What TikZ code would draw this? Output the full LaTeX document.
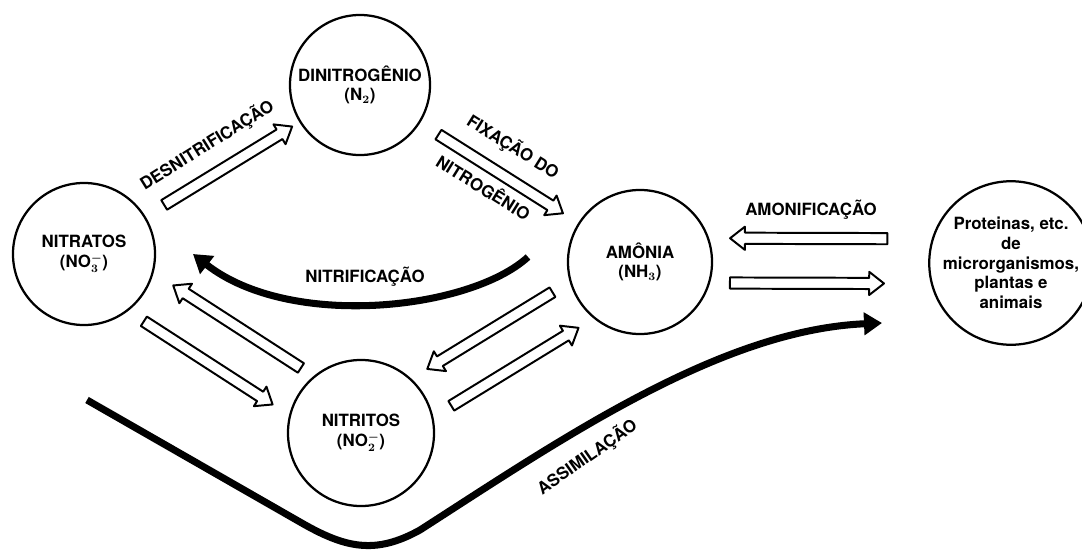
\documentclass[tikz,border=0pt]{standalone}
\usepackage{fontspec}
\setmainfont{TeX Gyre Heros}
\usetikzlibrary{arrows.meta, calc}

% hollow block arrow from #1 (tail) to #2 (tip)
\newcommand{\hollowarrow}[2]{%
  \draw[flow] ($(#1)!0.14cm!90:(#2)$)
    -- ($(#2)!0.37cm!(#1)!0.14cm!90:(#2)$)
    -- ($(#2)!0.37cm!(#1)!0.29cm!90:(#2)$)
    -- (#2)
    -- ($(#2)!0.37cm!(#1)!0.29cm!-90:(#2)$)
    -- ($(#2)!0.37cm!(#1)!0.14cm!-90:(#2)$)
    -- ($(#1)!0.14cm!-90:(#2)$) -- cycle;}

\begin{document}
\begin{tikzpicture}[
    x=0.025cm, y=-0.025cm,
    pool/.style     = {draw, circle, line width=1.6pt, minimum size=3.6cm,
                       inner sep=0pt, align=center,
                       font=\bfseries\boldmath\fontsize{12}{14}\selectfont},
    lbl/.style      = {font=\bfseries\fontsize{12}{14}\selectfont, inner sep=1pt},
    flow/.style     = {draw, fill=white, line width=1.4pt, line join=round},
    bold arr/.style = {line width=5pt,
                       -{Triangle[length=0.45cm, width=0.55cm]}},
  ]
  \useasboundingbox (0,0) rectangle (1082,552);

  % pools of nitrogen
  \node[pool, minimum size=3.55cm] (nitratos) at (84,254) {NITRATOS\\(NO$_3^-$)};
  \node[pool, minimum size=3.5cm]  (dinitro)  at (360,85) {DINITROGÊNIO\\(N$_2$)};
  \node[pool] (amonia)   at (640,262) {AMÔNIA\\(NH$_3$)};
  \node[pool, minimum size=3.65cm] (nitritos) at (361,433) {NITRITOS\\(NO$_2^-$)};
  \node[pool, minimum size=3.5cm]  (prot)     at (1011,263)
       {Proteinas, etc.\\de\\microrganismos,\\plantas e\\animais};

  % arrow ends
  \coordinate (desA) at ($(nitratos)!2.35cm!(dinitro)$);
  \coordinate (desB) at ($(nitratos)!6.1cm!(dinitro)$);
  \coordinate (fixA) at ($(dinitro)!2.32cm!(amonia)$);
  \coordinate (fixB) at ($(dinitro)!6.0cm!(amonia)$);
  \coordinate (ntA)  at ($(nitratos)!6.1cm!(nitritos)!0.55cm!90:(nitritos)$);
  \coordinate (ntB)  at ($(nitratos)!2.3cm!(nitritos)!0.55cm!90:(nitritos)$);
  \coordinate (tnA)  at ($(nitratos)!2.17cm!(nitritos)!0.6cm!-90:(nitritos)$);
  \coordinate (tnB)  at ($(nitratos)!6.0cm!(nitritos)!0.6cm!-90:(nitritos)$);
  \coordinate (anA)  at ($(amonia)!2.26cm!(nitritos)!0.5cm!-90:(nitritos)$);
  \coordinate (anB)  at ($(amonia)!5.93cm!(nitritos)!0.5cm!-90:(nitritos)$);
  \coordinate (naA)  at ($(amonia)!5.9cm!(nitritos)!0.6cm!90:(nitritos)$);
  \coordinate (naB)  at ($(amonia)!2.17cm!(nitritos)!0.6cm!90:(nitritos)$);
  \coordinate (amA)  at ($(amonia)!6.18cm!(prot)!0.6cm!90:(prot)$);
  \coordinate (amB)  at ($(amonia)!2.25cm!(prot)!0.6cm!90:(prot)$);
  \coordinate (maA)  at ($(amonia)!2.25cm!(prot)!0.52cm!-90:(prot)$);
  \coordinate (maB)  at ($(amonia)!6.1cm!(prot)!0.52cm!-90:(prot)$);

  \hollowarrow{desA}{desB}
  \hollowarrow{fixA}{fixB}
  \hollowarrow{ntA}{ntB}
  \hollowarrow{tnA}{tnB}
  \hollowarrow{anA}{anB}
  \hollowarrow{naA}{naB}
  \hollowarrow{amA}{amB}
  \hollowarrow{maA}{maB}

  % nitrificação and assimilação
  \coordinate (nitS) at ($(amonia)+(-112,-5)$);
  \coordinate (nitE) at ($(nitratos)+(109,0)$);
  \draw[bold arr] (nitS) .. controls (470,310) and (290,330) .. (nitE);

  \coordinate (asS) at ($(nitratos)+(3,146)$);
  \coordinate (asE) at ($(prot)+(-129,60)$);
  \draw[bold arr] (asS) -- (300,522)
    .. controls (345,548) and (375,555) .. (420,530)
    .. controls (560,440) and (720,330) .. (asE);

  % labels
  \node[lbl, rotate=32]  at (207,145) {DESNITRIFICAÇÃO};
  \node[lbl, rotate=-32] at (513,147) {FIXAÇÃO DO};
  \node[lbl, rotate=-32] at (484,187) {NITROGÊNIO};
  \node[lbl]             at (365,277) {NITRIFICAÇÃO};
  \node[lbl]             at (811,210) {AMONIFICAÇÃO};
  \node[lbl, rotate=35]  at (587,457) {ASSIMILAÇÃO};
\end{tikzpicture}
\end{document}
